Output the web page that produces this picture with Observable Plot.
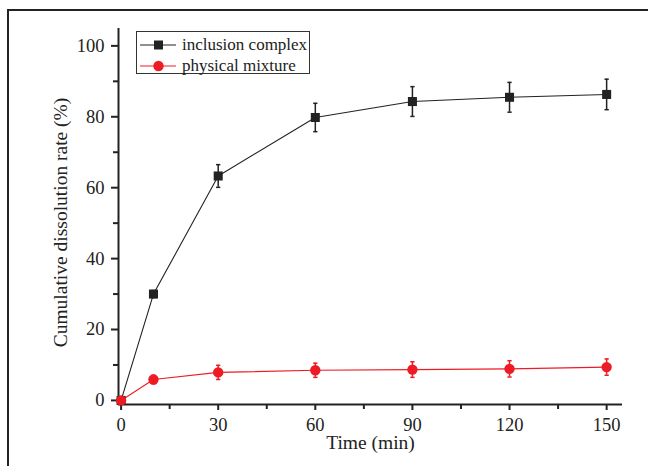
<!DOCTYPE html>
<html><head><meta charset="utf-8">
<script src="https://cdn.jsdelivr.net/npm/d3@7"></script>
<script src="https://cdn.jsdelivr.net/npm/@observablehq/plot@0.6"></script>
<style>
body{margin:0;background:#fff;}
#wrap{position:relative;width:648px;height:466px;overflow:hidden;font-family:"Liberation Serif","Times New Roman",serif;}
#frame{position:absolute;left:7px;top:9px;width:700px;height:520px;border-left:2px solid #222;border-top:2px solid #222;pointer-events:none;}
#legend{position:absolute;left:136px;top:31px;width:172px;height:41px;border:1px solid #333;background:#fff;font-size:17px;color:#222;}
.row{position:absolute;left:0;height:20px;display:flex;align-items:center;white-space:nowrap;}
.row svg{display:block;margin-left:2px;}
.row span{margin-left:5px;line-height:20px;}
</style></head>
<body>
<div id="wrap"><div id="chart"></div><div id="frame"></div><div id="legend"></div></div>
<script>
const times = [0, 10, 30, 60, 90, 120, 150];
const complexMean = [0, 30.0, 63.3, 79.8, 84.3, 85.5, 86.3];
const complexErr = [0, 1.0, 3.2, 4.0, 4.2, 4.2, 4.3];
const mixtureMean = [0, 5.9, 7.9, 8.5, 8.7, 8.9, 9.4];
const mixtureErr = [0, 1.2, 2.0, 2.0, 2.2, 2.3, 2.3];
const seriesNames = ["inclusion complex", "physical mixture"];
const seriesColors = ["#222222", "#ed1c24"];
const xTicks = [0, 30, 60, 90, 120, 150];
const xMinor = [15, 45, 75, 105, 135];
const yTicks = [0, 20, 40, 60, 80, 100];
const yMinor = [10, 30, 50, 70, 90];
const xLabel = "Time (min)";
const yLabel = "Cumulative dissolution rate (%)";

const xDomain = [-0.8, 154.9];
const yDomain = [-1.15, 104.9];

const rows = [];
times.forEach((t, i) => {
  rows.push({series: seriesNames[0], t, v: complexMean[i], e: complexErr[i]});
  rows.push({series: seriesNames[1], t, v: mixtureMean[i], e: mixtureErr[i]});
});
const colorOf = s => seriesColors[seriesNames.indexOf(s)];
const capSymbol = {draw(ctx, size) { const w = Math.sqrt(size) / 2; ctx.moveTo(-w, 0); ctx.lineTo(w, 0); }};
const errRows = rows.filter(d => d.e > 0);
const caps = errRows.flatMap(d => [{...d, c: d.v - d.e}, {...d, c: d.v + d.e}]);

const font = '"Liberation Serif","Times New Roman",serif';
const plot = Plot.plot({
  width: 648, height: 466,
  marginLeft: 118, marginRight: 26, marginTop: 28, marginBottom: 62,
  style: {fontFamily: font, fontSize: "18px", color: "#222", background: "transparent"},
  x: {domain: xDomain},
  y: {domain: yDomain},
  marks: [
    Plot.axisX(xTicks, {tickSize: 6, tickPadding: 7, strokeWidth: 2, label: null, fontSize: 18.5}),
    Plot.axisX(xMinor, {tickSize: 5, tickFormat: () => "", strokeWidth: 2, label: null}),
    Plot.axisY(yTicks, {tickSize: 7, tickPadding: 7, strokeWidth: 2, label: null, fontSize: 18.5}),
    Plot.axisY(yMinor, {tickSize: 5, tickFormat: () => "", strokeWidth: 2, label: null}),
    Plot.ruleY([yDomain[0]], {stroke: "#222", strokeWidth: 2}),
    Plot.ruleX([xDomain[0]], {stroke: "#222", strokeWidth: 2}),
    Plot.line(rows, {x: "t", y: "v", z: "series", stroke: d => colorOf(d.series), strokeWidth: 1.1}),
    Plot.ruleX(errRows, {x: "t", y1: d => d.v - d.e, y2: d => d.v + d.e, stroke: d => colorOf(d.series), strokeWidth: 1.5}),
    Plot.dot(caps, {x: "t", y: "c", symbol: capSymbol, r: 2.4, stroke: d => colorOf(d.series), strokeWidth: 1.5}),
    Plot.dot(rows.filter(d => d.series === seriesNames[0]), {x: "t", y: "v", symbol: "square", r: 5.1, fill: seriesColors[0], stroke: "none"}),
    Plot.dot(rows.filter(d => d.series === seriesNames[1]), {x: "t", y: "v", symbol: "circle", r: 5.2, fill: seriesColors[1], stroke: "none"}),
    Plot.text([xLabel], {frameAnchor: "bottom", textAnchor: "middle", lineAnchor: "middle", dy: 38, fontSize: 19.5, fill: "#222"}),
    Plot.text([yLabel], {frameAnchor: "left", textAnchor: "middle", lineAnchor: "middle", dx: -58, dy: 6, rotate: -90, fontSize: 19.5, fill: "#222"})
  ]
});
document.getElementById("chart").appendChild(plot);

const legend = document.getElementById("legend");
seriesNames.forEach((name, i) => {
  const row = document.createElement("div");
  row.className = "row";
  row.style.top = (3 + i * 21) + "px";
  const c = seriesColors[i];
  const marker = i === 0
    ? `<rect x="15" y="5.5" width="9" height="9" fill="${c}"/>`
    : `<circle cx="19.5" cy="10" r="5.2" fill="${c}"/>`;
  row.innerHTML = `<svg width="38" height="20"><line x1="1" y1="10" x2="37" y2="10" stroke="${c}" stroke-width="1.2"/>${marker}</svg><span>${name}</span>`;
  legend.appendChild(row);
});
</script>
</body></html>
